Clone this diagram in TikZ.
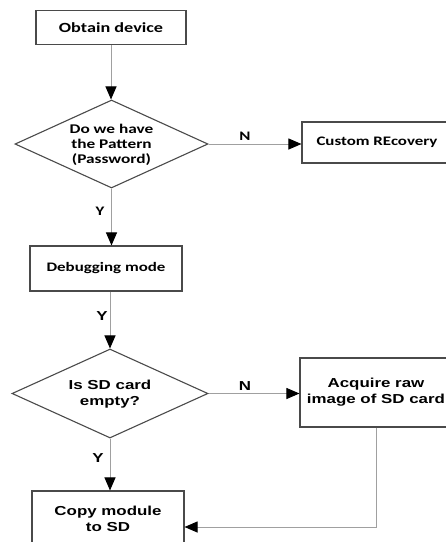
\documentclass[tikz,border=0pt]{standalone}
\usepackage{fontspec}
\usetikzlibrary{arrows.meta,shapes.geometric}
\newfontfamily\calfont[FakeStretch=1.3]{Carlito}
\newfontfamily\arfont[FakeStretch=1.3]{Liberation Sans}
\definecolor{boxc}{HTML}{4A4A4A}
\definecolor{linec}{HTML}{A0A0A0}
\begin{document}
\begin{tikzpicture}[x=1pt,y=-1pt,
  box/.style={draw=boxc, line width=1.1pt, rectangle, inner sep=0pt},
  dia/.style={draw=boxc, line width=1.1pt, diamond, inner sep=0pt},
  conn/.style={draw=linec, line width=1pt},
  arr/.style={conn, -{Triangle[length=13pt,width=11pt,color=black]}},
  ctext/.style={font=\calfont\bfseries\fontsize{13}{15}\selectfont, align=center, inner sep=0pt},
  atext/.style={font=\arfont\bfseries\fontsize{13}{16}\selectfont, align=center, inner sep=0pt},
]
\clip (0,0) rectangle (446,542);
\fill[white] (0,0) rectangle (446,542);

\node[box, ctext, font=\calfont\bfseries\fontsize{14}{15}\selectfont, minimum width=150pt, minimum height=34pt] (obtain) at (111,27.5) {Obtain device};
\node[dia, minimum width=193pt, minimum height=88pt] (d1) at (111.5,144) {};
\node[ctext, font=\calfont\bfseries\fontsize{13.3}{15}\selectfont] (d1t) at (111.5,145) {Do we have\\the Pattern\\(Password)};
\node[box, ctext, minimum width=150pt, minimum height=41pt] (custom) at (377,142.5) {Custom REcovery};
\node[box, ctext, minimum width=152pt, minimum height=45pt] (debug) at (106,268.5) {Debugging mode};
\node[dia, minimum width=196pt, minimum height=89pt] (d2) at (110,393.5) {};
\node[atext] (d2t) at (110,394) {Is SD card\\empty?};
\node[box, atext, minimum width=152pt, minimum height=69pt] (acq) at (376,392.5) {Acquire raw\\image of SD card};
\node[box, minimum width=152pt, minimum height=70pt] (copy) at (108,526) {};
\node[atext] (copyt) at (108,519) {Copy module\\to SD};

\draw[arr] (obtain.south) -- (obtain.south |- d1.north);
\draw[arr] (d1.east) -- (d1.east -| custom.west);
\node[ctext] (n1) at (245,136) {N};
\draw[arr] (d1.south) -- (d1.south |- debug.north);
\node[ctext] (y1) at (100,211) {Y};
\draw[arr] (d2.north |- debug.south) -- (d2.north);
\node[atext] (y2) at (102,316) {Y};
\draw[arr] (d2.east) -- (d2.east -| acq.west);
\node[atext] (n2) at (245,386) {N};
\draw[arr] (d2.south) -- (d2.south |- copy.north);
\node[atext] (y3) at (98,458) {Y};
\coordinate (turn) at (376,527);
\draw[arr] (acq.south) -- (turn) -- (turn -| copy.east);
\end{tikzpicture}
\end{document}
